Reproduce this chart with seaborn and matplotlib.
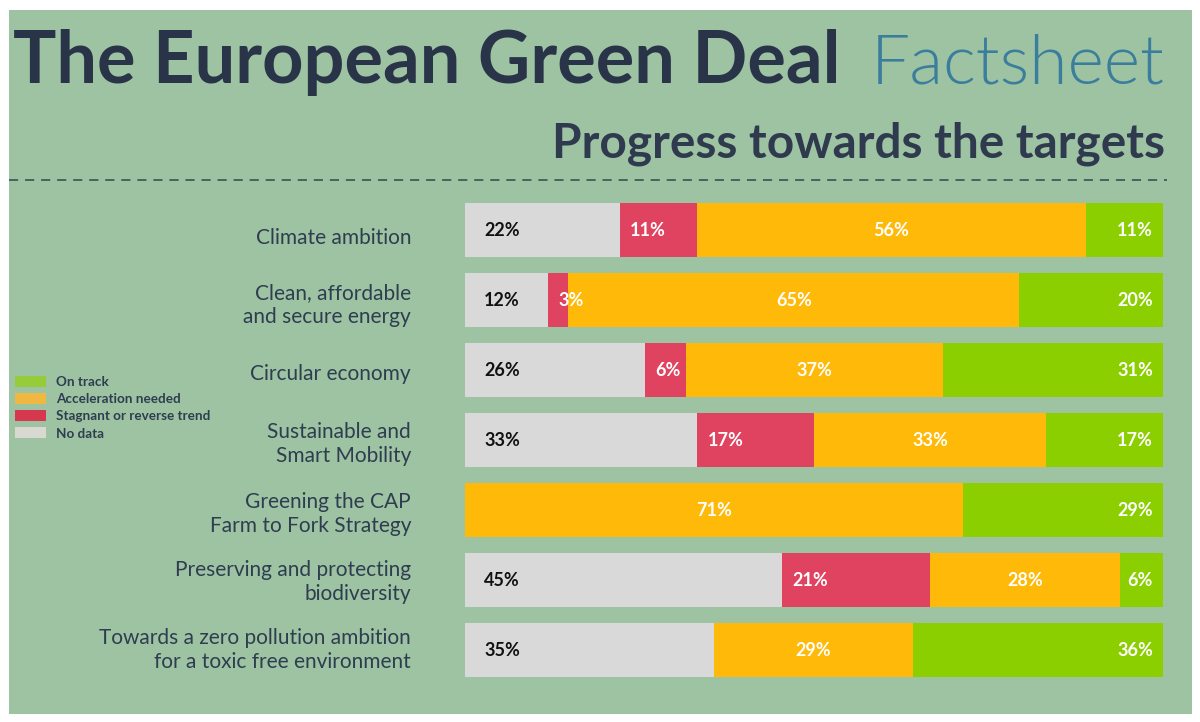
import seaborn as sns
import matplotlib.pyplot as plt
from matplotlib.lines import Line2D
from matplotlib.patches import Patch, Rectangle
import numpy as np

sns.set_theme(style="white")
plt.rcParams["font.family"] = ["Lato", "DejaVu Sans"]

categories = [
    "Climate ambition",
    "Clean, affordable\nand secure energy",
    "Circular economy",
    "Sustainable and\nSmart Mobility",
    "Greening the CAP\nFarm to Fork Strategy",
    "Preserving and protecting\nbiodiversity",
    "Towards a zero pollution ambition\nfor a toxic free environment",
]
# bar lengths
no_data = [22.2, 11.9, 25.8, 33.3, 0, 45.4, 35.7]
stagnant = [11.1, 2.9, 5.9, 16.7, 0, 21.2, 0]
acceleration = [55.6, 64.6, 36.8, 33.3, 71.4, 27.2, 28.5]
on_track = [11.1, 20.6, 31.5, 16.7, 28.6, 6.2, 35.8]

# printed shares, the source rounds them a bit differently
no_data_labels = ["22%", "12%", "26%", "33%", "", "45%", "35%"]
stagnant_labels = ["11%", "3%", "6%", "17%", "", "21%", ""]
acceleration_labels = ["56%", "65%", "37%", "33%", "71%", "28%", "29%"]
on_track_labels = ["11%", "20%", "31%", "17%", "29%", "6%", "36%"]

bar_colors = ["#d9d9d9", "#e0435f", "#ffb908", "#8ccf00"]
legend_colors = ["#96cc3a", "#f0b840", "#d6394f", "#d9d9d2"]
legend_names = ["On track", "Acceleration needed", "Stagnant or reverse trend", "No data"]
# vertical shift of category labels vs bar centre, in px
label_shift = [8, 5, 4, 4, 4, 2, 0]
dark = "#2a3449"
W, H = 1200, 722


def fx(px):
    return px / W


def fy(px):
    return 1 - px / H


fig = plt.figure(figsize=(12, 7.22), dpi=100, facecolor="white")
fig.add_artist(Rectangle((fx(9), fy(714)), fx(1192) - fx(9), fy(10) - fy(714),
                         transform=fig.transFigure, facecolor="#9dc3a2", edgecolor="none", zorder=-5))

ax = fig.add_axes([fx(465), fy(685), fx(1163) - fx(465), fy(195) - fy(685)])
ax.patch.set_alpha(0)

series = np.array([no_data, stagnant, acceleration, on_track], dtype=float)
# stacked bars: cumulative widths drawn from longest to shortest
cum = series.cumsum(axis=0)
for i in [3, 2, 1, 0]:
    sns.barplot(x=cum[i], y=categories, color=bar_colors[i], saturation=1, width=0.771,
                orient="h", ax=ax, zorder=2, linewidth=0)

ax.set_xlim(0, 100)
ax.set_ylim(6.5, -0.5)
ax.set_xlabel("")
ax.set_ylabel("")
ax.set_xticks([])
ax.set_yticks([])
sns.despine(ax=ax, left=True, bottom=True)

for row, name in enumerate(categories):
    ax.annotate(name, xy=(0, row), xycoords=("axes fraction", "data"),
                xytext=(-54 * 0.72, -label_shift[row] * 0.72), textcoords="offset points",
                ha="right", va="center", fontsize=15, color="#2f3d50", linespacing=1.3)

    # grey label sits left, red one after the segment start, green one right
    ax.annotate(no_data_labels[row], xy=(0, row), xytext=(19 * 0.72, -0.7), textcoords="offset points",
                ha="left", va="center", fontsize=13, fontweight="bold", color="#111111", zorder=5)
    ax.annotate(stagnant_labels[row], xy=(cum[0][row], row), xytext=(10 * 0.72, -0.7),
                textcoords="offset points", ha="left", va="center",
                fontsize=13, fontweight="bold", color="white", zorder=5)
    ax.annotate(acceleration_labels[row], xy=((cum[1][row] + cum[2][row]) / 2, row), xytext=(0, -0.7),
                textcoords="offset points", ha="center", va="center",
                fontsize=13, fontweight="bold", color="white", zorder=5)
    ax.annotate(on_track_labels[row], xy=(100, row), xytext=(-10 * 0.72, -0.7),
                textcoords="offset points", ha="right", va="center",
                fontsize=13, fontweight="bold", color="white", zorder=5)

fig.text(fx(13), fy(83), "The European Green Deal", fontsize=52, fontweight="bold",
         color=dark, ha="left", va="baseline")
fig.text(fx(1165), fy(83), "Factsheet", fontsize=50, fontweight=300,
         color="#3a7d9c", ha="right", va="baseline")
fig.text(fx(1165), fy(158), "Progress towards the targets", fontsize=34.4, fontweight="bold",
         color="#2f3a4e", ha="right", va="baseline")

fig.add_artist(Line2D([fx(9), fx(1167)], [fy(180), fy(180)], transform=fig.transFigure,
                      color="#2f4a4a", lw=1.1, dashes=(6, 4.5)))

handles = [Patch(facecolor=c, edgecolor="none", label=n) for c, n in zip(legend_colors, legend_names)]
fig.legend(handles=handles, loc="upper left", bbox_to_anchor=(fx(15), fy(376)), frameon=False,
           prop={"size": 9.7, "weight": "bold"}, handlelength=2.3, handleheight=0.9, handletextpad=0.75,
           labelspacing=0.36, borderpad=0, borderaxespad=0, labelcolor="#2f3d50")

fig.savefig("out.png", dpi=100, facecolor="white")
